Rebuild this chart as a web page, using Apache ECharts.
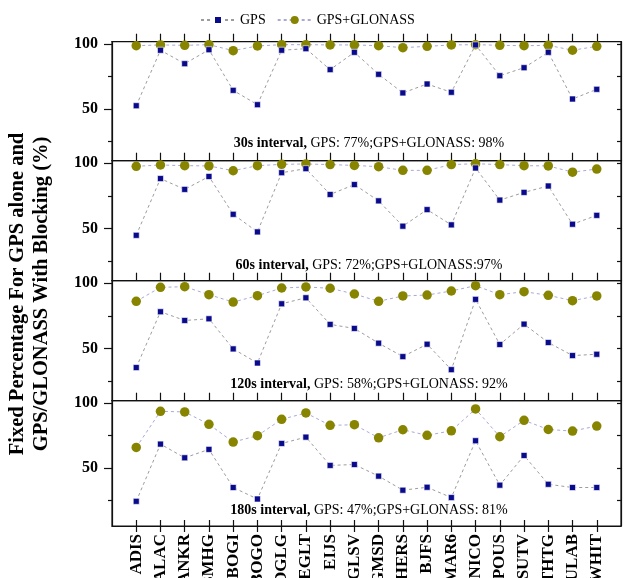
<!DOCTYPE html>
<html>
<head>
<meta charset="utf-8">
<script src="https://cdn.jsdelivr.net/npm/echarts@6/dist/echarts.min.js"></script>
<style>
  html, body { margin: 0; padding: 0; background: #fff; }
  #chart { width: 625px; height: 578px; }
</style>
</head>
<body>
<div id="chart"></div>
<script>
// Stations along the shared horizontal axis
const stations = ['ADIS','ALAC','ANKR','BMHG','BOGI','BOGO','DGLG','EGLT','EIJS','GLSV',
                  'GMSD','HERS','BJFS','MAR6','NICO','POUS','SUTV','THTG','ULAB','WHIT'];

// Fixed percentage (%) per station, for each sampling interval
const gps30  = [52.5, 95.4, 85.0, 95.8, 64.4, 53.3, 95.4, 96.6, 80.4, 93.8, 76.8, 62.4, 69.3, 62.9, 99.5, 75.7, 81.9, 93.8, 57.7, 65.2];
const glo30  = [98.9, 99.5, 99.2, 99.7, 95.1, 98.7, 99.7, 99.7, 99.5, 99.5, 98.9, 97.4, 98.4, 99.5, 99.7, 99.2, 98.9, 99.2, 95.4, 98.4];
const gps60  = [44.8, 88.3, 80.0, 89.9, 60.9, 47.4, 92.8, 95.9, 76.1, 83.7, 71.2, 51.8, 64.5, 52.8, 96.4, 71.8, 77.7, 82.6, 53.3, 60.1];
const glo60  = [97.7, 98.7, 98.2, 98.0, 94.3, 98.2, 99.2, 99.5, 99.0, 98.4, 97.4, 94.6, 94.6, 99.0, 99.7, 99.0, 98.2, 98.0, 93.2, 95.6];
const gps120 = [35.4, 78.2, 71.5, 72.8, 49.7, 38.9, 84.3, 88.9, 68.5, 65.4, 54.1, 43.8, 53.3, 33.8, 87.7, 53.1, 68.7, 54.6, 44.6, 45.6];
const glo120 = [86.2, 96.9, 97.4, 91.3, 85.6, 90.5, 96.4, 97.2, 96.2, 91.8, 86.2, 90.3, 91.0, 94.1, 98.2, 91.3, 93.6, 90.8, 86.7, 90.3];
const gps180 = [24.1, 68.4, 57.8, 64.3, 34.8, 25.9, 68.9, 73.8, 51.9, 52.6, 43.6, 32.7, 35.0, 27.0, 71.0, 36.6, 59.6, 37.3, 34.8, 34.8];
const glo180 = [65.8, 93.8, 93.3, 83.7, 70.0, 74.9, 87.6, 92.5, 82.9, 83.4, 73.3, 79.5, 75.2, 78.7, 95.6, 74.1, 86.8, 79.7, 78.5, 82.4];

// Panel captions: bold interval part, then the averages
const intervalNames = ['30s interval,', '60s interval,', '120s interval,', '180s interval,'];
const averageTexts  = [' GPS: 77%;GPS+GLONASS: 98%', ' GPS: 72%;GPS+GLONASS:97%', ' GPS: 58%;GPS+GLONASS: 92%', ' GPS: 47%;GPS+GLONASS: 81%'];

// Tick values on the percentage axes
const majorTicks = [50, 100];
const minorTicks = [25, 75];
const rightTicks = [25, 50, 75, 100];

const gpsPanels = [gps30, gps60, gps120, gps180];
const gloPanels = [glo30, glo60, glo120, glo180];

const FONT = '"Liberation Serif", "Times New Roman", serif';
const AXIS_COLOR = '#111';
const stationIdx = stations.map((_, i) => i);

// Panel layout (pixels)
const panels = [
  { top: 41.7,  height: 119,   min: 10 },
  { top: 160.7, height: 120,   min: 10 },
  { top: 280.7, height: 120,   min: 10 },
  { top: 400.7, height: 125.3, min: 5 }
];
const PLOT_LEFT = 112, PLOT_RIGHT = 4, Y_MAX = 102;

const grid = [], xAxis = [], yAxis = [], series = [], title = [];

panels.forEach((p, i) => {
  grid.push({
    left: PLOT_LEFT, right: PLOT_RIGHT, top: p.top, height: p.height,
    outerBoundsMode: 'none', containLabel: false,
    show: true, borderColor: AXIS_COLOR, borderWidth: 1.2, backgroundColor: 'transparent'
  });

  // top axis of every panel: outward ticks only
  xAxis.push({
    type: 'value', gridIndex: i, position: 'top', min: -1, max: 20, interval: 1,
    axisLine: { show: true, onZero: false, lineStyle: { color: AXIS_COLOR, width: 1.2 } },
    axisTick: { show: true, inside: false, length: 8, customValues: stationIdx, lineStyle: { color: AXIS_COLOR, width: 1.2 } },
    axisLabel: { show: false },
    splitLine: { show: false }
  });

  const yBase = { type: 'value', gridIndex: i, min: p.min, max: Y_MAX, splitLine: { show: false } };
  // left axis with labels and long ticks
  yAxis.push(Object.assign({}, yBase, {
    position: 'left',
    axisLine: { show: true, onZero: false, lineStyle: { color: AXIS_COLOR, width: 1.2 } },
    axisTick: { show: true, length: 8, customValues: majorTicks, lineStyle: { color: AXIS_COLOR, width: 1.2 } },
    axisLabel: { show: true, customValues: majorTicks, margin: 14, color: '#000',
                 fontFamily: FONT, fontWeight: 'bold', fontSize: 16 }
  }));
  // left axis short ticks
  yAxis.push(Object.assign({}, yBase, {
    position: 'left',
    axisLine: { show: false, onZero: false },
    axisTick: { show: true, length: 4, customValues: minorTicks, lineStyle: { color: AXIS_COLOR, width: 1.2 } },
    axisLabel: { show: false }
  }));
  // right axis: inward ticks
  yAxis.push(Object.assign({}, yBase, {
    position: 'right',
    axisLine: { show: true, onZero: false, lineStyle: { color: AXIS_COLOR, width: 1.2 } },
    axisTick: { show: true, inside: true, length: 4, customValues: rightTicks, lineStyle: { color: AXIS_COLOR, width: 1.2 } },
    axisLabel: { show: false }
  }));

  series.push({
    name: 'GPS', type: 'line', xAxisIndex: i, yAxisIndex: 3 * i,
    data: gpsPanels[i].map((v, k) => [k, v]),
    symbol: 'rect', symbolSize: 6,
    itemStyle: { color: '#0a0a8c', borderColor: '#ffffff', borderWidth: 0.6 },
    lineStyle: { color: '#9c9c9c', width: 1, type: [3, 3] },
    z: 3, animation: false
  });
  series.push({
    name: 'GPS+GLONASS', type: 'line', xAxisIndex: i, yAxisIndex: 3 * i,
    data: gloPanels[i].map((v, k) => [k, v]),
    symbol: 'circle', symbolSize: 9.5,
    itemStyle: { color: '#878400' },
    lineStyle: { color: '#a9a9d6', width: 1, type: [3, 3] },
    z: 2, animation: false
  });
});

// bottom axis of the last panel: station labels and crossing ticks
xAxis.push({
  type: 'value', gridIndex: 3, position: 'bottom', min: -1, max: 20, interval: 1,
  axisLine: { show: true, onZero: false, lineStyle: { color: AXIS_COLOR, width: 1.2 } },
  axisTick: { show: true, inside: false, length: 6, customValues: stationIdx, lineStyle: { color: AXIS_COLOR, width: 1.2 } },
  axisLabel: {
    show: true, customValues: stationIdx, rotate: 90, margin: 8, hideOverlap: false,
    formatter: v => stations[v] || '',
    color: '#000', fontFamily: FONT, fontWeight: 'bold', fontSize: 17
  },
  splitLine: { show: false }
});
xAxis.push({
  type: 'value', gridIndex: 3, position: 'bottom', min: -1, max: 20, interval: 1,
  axisLine: { show: false, onZero: false },
  axisTick: { show: true, inside: true, length: 6, customValues: stationIdx, lineStyle: { color: AXIS_COLOR, width: 1.2 } },
  axisLabel: { show: false },
  splitLine: { show: false }
});

// panel captions, centred on the plot area
const captionCenters = [143, 265, 384, 510];
captionCenters.forEach((cy, i) => {
  title.push({
    text: '{b|' + intervalNames[i] + '}{r|' + averageTexts[i] + '}',
    left: 369, top: cy - 7, textAlign: 'center', padding: 0,
    textStyle: {
      rich: {
        b: { fontFamily: FONT, fontWeight: 'bold', fontSize: 14, color: '#000' },
        r: { fontFamily: FONT, fontWeight: 'normal', fontSize: 14, color: '#000' }
      }
    }
  });
});

const option = {
  backgroundColor: '#ffffff',
  animation: false,
  title: title,
  legend: {
    top: 8, left: 195, itemWidth: 34, itemHeight: 10, itemGap: 11,
    textStyle: { fontFamily: FONT, fontSize: 14, color: '#000' },
    data: ['GPS', 'GPS+GLONASS']
  },
  grid: grid,
  xAxis: xAxis,
  yAxis: yAxis,
  series: series,
  graphic: [
    {
      type: 'text', x: 18, y: 294, rotation: Math.PI / 2,
      style: { text: 'Fixed Percentage For GPS alone and', font: 'bold 20.5px ' + FONT,
               fill: '#000', align: 'center', verticalAlign: 'middle' }
    },
    {
      type: 'text', x: 42, y: 294, rotation: Math.PI / 2,
      style: { text: 'GPS/GLONASS With Blocking (%)', font: 'bold 20.5px ' + FONT,
               fill: '#000', align: 'center', verticalAlign: 'middle' }
    }
  ]
};

const chart = echarts.init(document.getElementById('chart'), null, { renderer: 'canvas' });
chart.setOption(option);
</script>
</body>
</html>
